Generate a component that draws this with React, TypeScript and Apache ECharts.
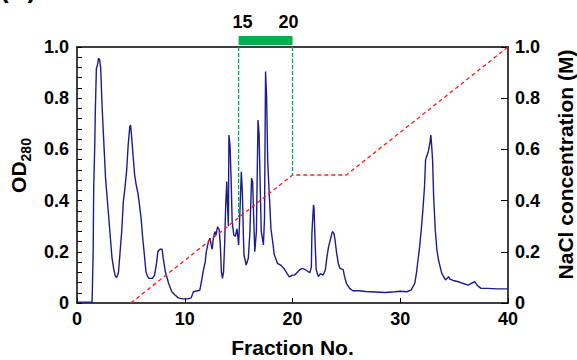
import React, { useEffect, useRef } from "react";
import * as echarts from "echarts";

// OD280 elution trace: fraction number and absorbance
const fractions = [
  0, 1.4, 1.5, 1.55, 1.65, 1.7, 1.8, 1.9, 2.0, 2.1, 2.2, 2.3, 2.35, 2.5, 2.65, 2.8, 2.94, 3.1, 3.25, 3.4,
  3.55, 3.7, 3.85, 4.0, 4.15, 4.3, 4.45, 4.6, 4.75, 4.9, 4.97, 5.05, 5.2, 5.35, 5.5, 5.65, 5.8, 5.95, 6.1, 6.25,
  6.4, 6.55, 6.7, 7.0, 7.2, 7.4, 7.5, 7.7, 7.9, 8.0, 8.2, 8.5, 8.8, 9.1, 9.4, 9.8, 10.3, 10.6, 10.8, 11.1,
  11.4, 11.6, 11.7, 11.9, 12.0, 12.2, 12.35, 12.45, 12.55, 12.65, 12.8, 12.9, 13.05, 13.2, 13.3, 13.4, 13.5, 13.6, 13.7, 13.8,
  13.9, 13.95, 14.05, 14.1, 14.2, 14.3, 14.4, 14.55, 14.7, 14.85, 15.0, 15.1, 15.25, 15.35, 15.45, 15.5, 15.7, 15.9, 16.05, 16.2,
  16.3, 16.4, 16.5, 16.65, 16.8, 16.9, 17.0, 17.1, 17.3, 17.4, 17.5, 17.6, 17.7, 17.85, 18.0, 18.2, 18.3, 18.6, 18.9, 19.2,
  19.5, 19.7, 20.0, 20.2, 20.65, 20.9, 21.2, 21.6, 21.75, 21.8, 21.95, 22.0, 22.1, 22.2, 22.4, 22.6, 22.85, 23.05, 23.2, 23.35,
  23.55, 23.7, 23.85, 23.95, 24.1, 24.25, 24.4, 24.7, 24.85, 25.0, 25.3, 25.6, 26.2, 26.8, 27.7, 28.6, 29.5, 30.0, 30.6, 31.0,
  31.35, 31.5, 31.65, 31.8, 31.95, 32.1, 32.25, 32.35, 32.45, 32.6, 32.75, 32.84, 32.9, 33.0, 33.1, 33.25, 33.4, 33.55, 33.7, 33.85,
  34.2, 34.5, 34.6, 34.9, 35.4, 35.8, 36.3, 36.6, 36.9, 37.2, 37.5, 38.1, 39.0, 40.0,
];
const od280 = [
  0.003, 0.003, 0.2, 0.45, 0.62, 0.75, 0.917, 0.93, 0.956, 0.95, 0.917, 0.8, 0.75, 0.617, 0.487, 0.41, 0.337, 0.253, 0.175, 0.135,
  0.105, 0.1, 0.12, 0.2, 0.28, 0.396, 0.45, 0.513, 0.617, 0.689, 0.695, 0.66, 0.578, 0.5, 0.46, 0.43, 0.383, 0.33, 0.253, 0.19,
  0.122, 0.103, 0.096, 0.096, 0.109, 0.161, 0.2, 0.21, 0.21, 0.175, 0.122, 0.077, 0.044, 0.031, 0.02, 0.016, 0.016, 0.02, 0.044, 0.047,
  0.05, 0.096, 0.122, 0.161, 0.2, 0.24, 0.253, 0.227, 0.21, 0.253, 0.279, 0.266, 0.298, 0.285, 0.227, 0.122, 0.096, 0.122, 0.227, 0.383,
  0.474, 0.4, 0.3, 0.656, 0.617, 0.487, 0.318, 0.266, 0.26, 0.29, 0.227, 0.33, 0.513, 0.43, 0.25, 0.1875, 0.148, 0.175, 0.279, 0.487,
  0.474, 0.33, 0.2, 0.28, 0.715, 0.66, 0.46, 0.28, 0.227, 0.33, 0.904, 0.8, 0.552, 0.42, 0.29, 0.227, 0.19, 0.155, 0.148, 0.135,
  0.115, 0.102, 0.109, 0.109, 0.129, 0.135, 0.13, 0.118, 0.14, 0.272, 0.383, 0.37, 0.233, 0.13, 0.103, 0.115, 0.109, 0.13, 0.181, 0.22,
  0.253, 0.279, 0.272, 0.246, 0.194, 0.155, 0.135, 0.13, 0.1, 0.077, 0.057, 0.048, 0.048, 0.045, 0.043, 0.041, 0.044, 0.046, 0.044, 0.05,
  0.077, 0.116, 0.168, 0.22, 0.285, 0.363, 0.454, 0.559, 0.572, 0.591, 0.624, 0.656, 0.624, 0.559, 0.415, 0.285, 0.207, 0.168, 0.142, 0.116,
  0.09, 0.103, 0.093, 0.088, 0.083, 0.077, 0.07, 0.077, 0.083, 0.067, 0.057, 0.057, 0.055, 0.055,
];

// NaCl gradient (right axis)
const naclFractions = [5, 20, 25, 40];
const naclConc = [0, 0.5, 0.5, 1.0];

// Pooled fractions (green bar and dashed guides)
const poolFractions = [15, 20];
const poolLabels = ["15", "20"];
const poolGuideBottom = [0.335, 0.5];

// Tick values
const xTicks = [0, 10, 20, 30, 40];
const yTicks = [0, 0.2, 0.4, 0.6, 0.8, 1.0];

const FONT = "'Liberation Sans', Arial, Helvetica, sans-serif";
const NAVY = "#1c1c8c";
const RED = "#ff1a1a";
const GREEN = "#00b050";

const fmtY = (v: number) => (v === 0 ? "0" : v.toFixed(1));

export default function App() {
  const ref = useRef<HTMLDivElement>(null);

  useEffect(() => {
    if (!ref.current) return;
    const chart = echarts.init(ref.current, null, { renderer: "svg" });

    const tickLabel = {
      color: "#000",
      fontSize: 18,
      fontWeight: "bold" as const,
      fontFamily: FONT,
    };
    const axisLine = { show: true, onZero: false, lineStyle: { color: "#000", width: 1.5 } };

    const option: any = {
      animation: false,
      backgroundColor: "#ffffff",
      grid: { left: 77, right: 69, top: 47, bottom: 57, outerBoundsMode: "none" },
      graphic: [
        {
          type: "text",
          x: 0,
          y: -24,
          style: { text: "(A)", font: `bold 26px ${FONT}`, fill: "#000" },
        },
      ],
      xAxis: [
        {
          type: "value",
          min: xTicks[0],
          max: xTicks[xTicks.length - 1],
          interval: 10,
          position: "bottom",
          axisLine,
          axisTick: { show: true, inside: true, length: 5, lineStyle: { color: "#000", width: 1 } },
          axisLabel: { ...tickLabel, margin: 7 },
          splitLine: { show: false },
          name: "Fraction No.",
          nameLocation: "middle",
          nameGap: 34,
          nameTextStyle: { color: "#000", fontSize: 21, fontWeight: "bold", fontFamily: FONT },
        },
        {
          type: "value",
          min: xTicks[0],
          max: xTicks[xTicks.length - 1],
          position: "top",
          axisLine,
          axisTick: { show: false },
          axisLabel: { show: false },
          splitLine: { show: false },
        },
      ],
      yAxis: [
        {
          type: "value",
          min: yTicks[0],
          max: yTicks[yTicks.length - 1],
          interval: 0.2,
          position: "left",
          axisLine,
          axisTick: { show: true, inside: true, length: 5, lineStyle: { color: "#000", width: 1 } },
          minorTick: { show: true, splitNumber: 5, length: 5, lineStyle: { color: "#000", width: 1 } },
          axisLabel: { ...tickLabel, margin: 8, formatter: fmtY },
          splitLine: { show: false },
          minorSplitLine: { show: false },
          name: "{a|OD}{b|280}",
          nameLocation: "middle",
          nameRotate: 90,
          nameGap: 44,
          nameTextStyle: {
            padding: [0, 0, 0, 19],
            rich: {
              a: { fontSize: 21, fontWeight: "bold", fontFamily: FONT, color: "#000", lineHeight: 30, verticalAlign: "middle" },
              b: { fontSize: 14, fontWeight: "bold", fontFamily: FONT, color: "#000", lineHeight: 12, verticalAlign: "bottom" },
            },
          },
        },
        {
          type: "value",
          min: yTicks[0],
          max: yTicks[yTicks.length - 1],
          interval: 0.2,
          position: "right",
          axisLine,
          axisTick: { show: true, inside: true, length: 7, lineStyle: { color: "#000", width: 1 } },
          axisLabel: { ...tickLabel, margin: 7, formatter: fmtY },
          splitLine: { show: false },
          name: "NaCl concentration (M)",
          nameLocation: "middle",
          nameRotate: 90,
          nameGap: 47,
          nameTextStyle: {
            color: "#000",
            fontSize: 21,
            fontWeight: "bold",
            fontFamily: FONT,
            padding: [0, 0, 0, 21],
          },
        },
      ],
      series: [
        {
          name: "OD280",
          type: "line",
          xAxisIndex: 0,
          yAxisIndex: 0,
          data: fractions.map((f, i) => [f, od280[i]]),
          symbol: "none",
          smooth: false,
          lineStyle: { color: NAVY, width: 1.4 },
          z: 3,
        },
        {
          name: "NaCl",
          type: "line",
          xAxisIndex: 0,
          yAxisIndex: 1,
          data: naclFractions.map((f, i) => [f, naclConc[i]]),
          symbol: "none",
          lineStyle: { color: RED, width: 1.3, type: [4, 3] },
          z: 4,
        },
        ...poolFractions.map((f, i) => ({
          name: "pool" + i,
          type: "line",
          xAxisIndex: 0,
          yAxisIndex: 1,
          data: [
            [f, yTicks[yTicks.length - 1]],
            [f, poolGuideBottom[i]],
          ],
          symbol: "none",
          lineStyle: { color: GREEN, width: 1.3, type: [4, 2] },
          z: 5,
        })),
        {
          name: "poolBar",
          type: "custom",
          xAxisIndex: 0,
          yAxisIndex: 0,
          clip: false,
          silent: true,
          data: [[poolFractions[0], poolFractions[1]]],
          renderItem: (_params: any, api: any) => {
            const top = yTicks[yTicks.length - 1];
            const a = api.coord([api.value(0), top]);
            const b = api.coord([api.value(1), top]);
            return {
              type: "group",
              children: [
                {
                  type: "rect",
                  shape: { x: a[0], y: a[1] - 11, width: b[0] - a[0], height: 9 },
                  style: { fill: GREEN },
                },
                {
                  type: "text",
                  x: a[0] + 4,
                  y: a[1] - 25,
                  style: { text: poolLabels[0], fill: "#000", font: `bold 18px ${FONT}`, align: "center", verticalAlign: "middle" },
                },
                {
                  type: "text",
                  x: b[0] - 4,
                  y: a[1] - 25,
                  style: { text: poolLabels[1], fill: "#000", font: `bold 18px ${FONT}`, align: "center", verticalAlign: "middle" },
                },
              ],
            };
          },
          z: 6,
        },
      ],
    };

    chart.setOption(option);
    return () => chart.dispose();
  }, []);

  return (
    <div
      ref={ref}
      style={{ position: "fixed", left: 0, top: 0, width: 577, height: 360, background: "#fff" }}
    />
  );
}
